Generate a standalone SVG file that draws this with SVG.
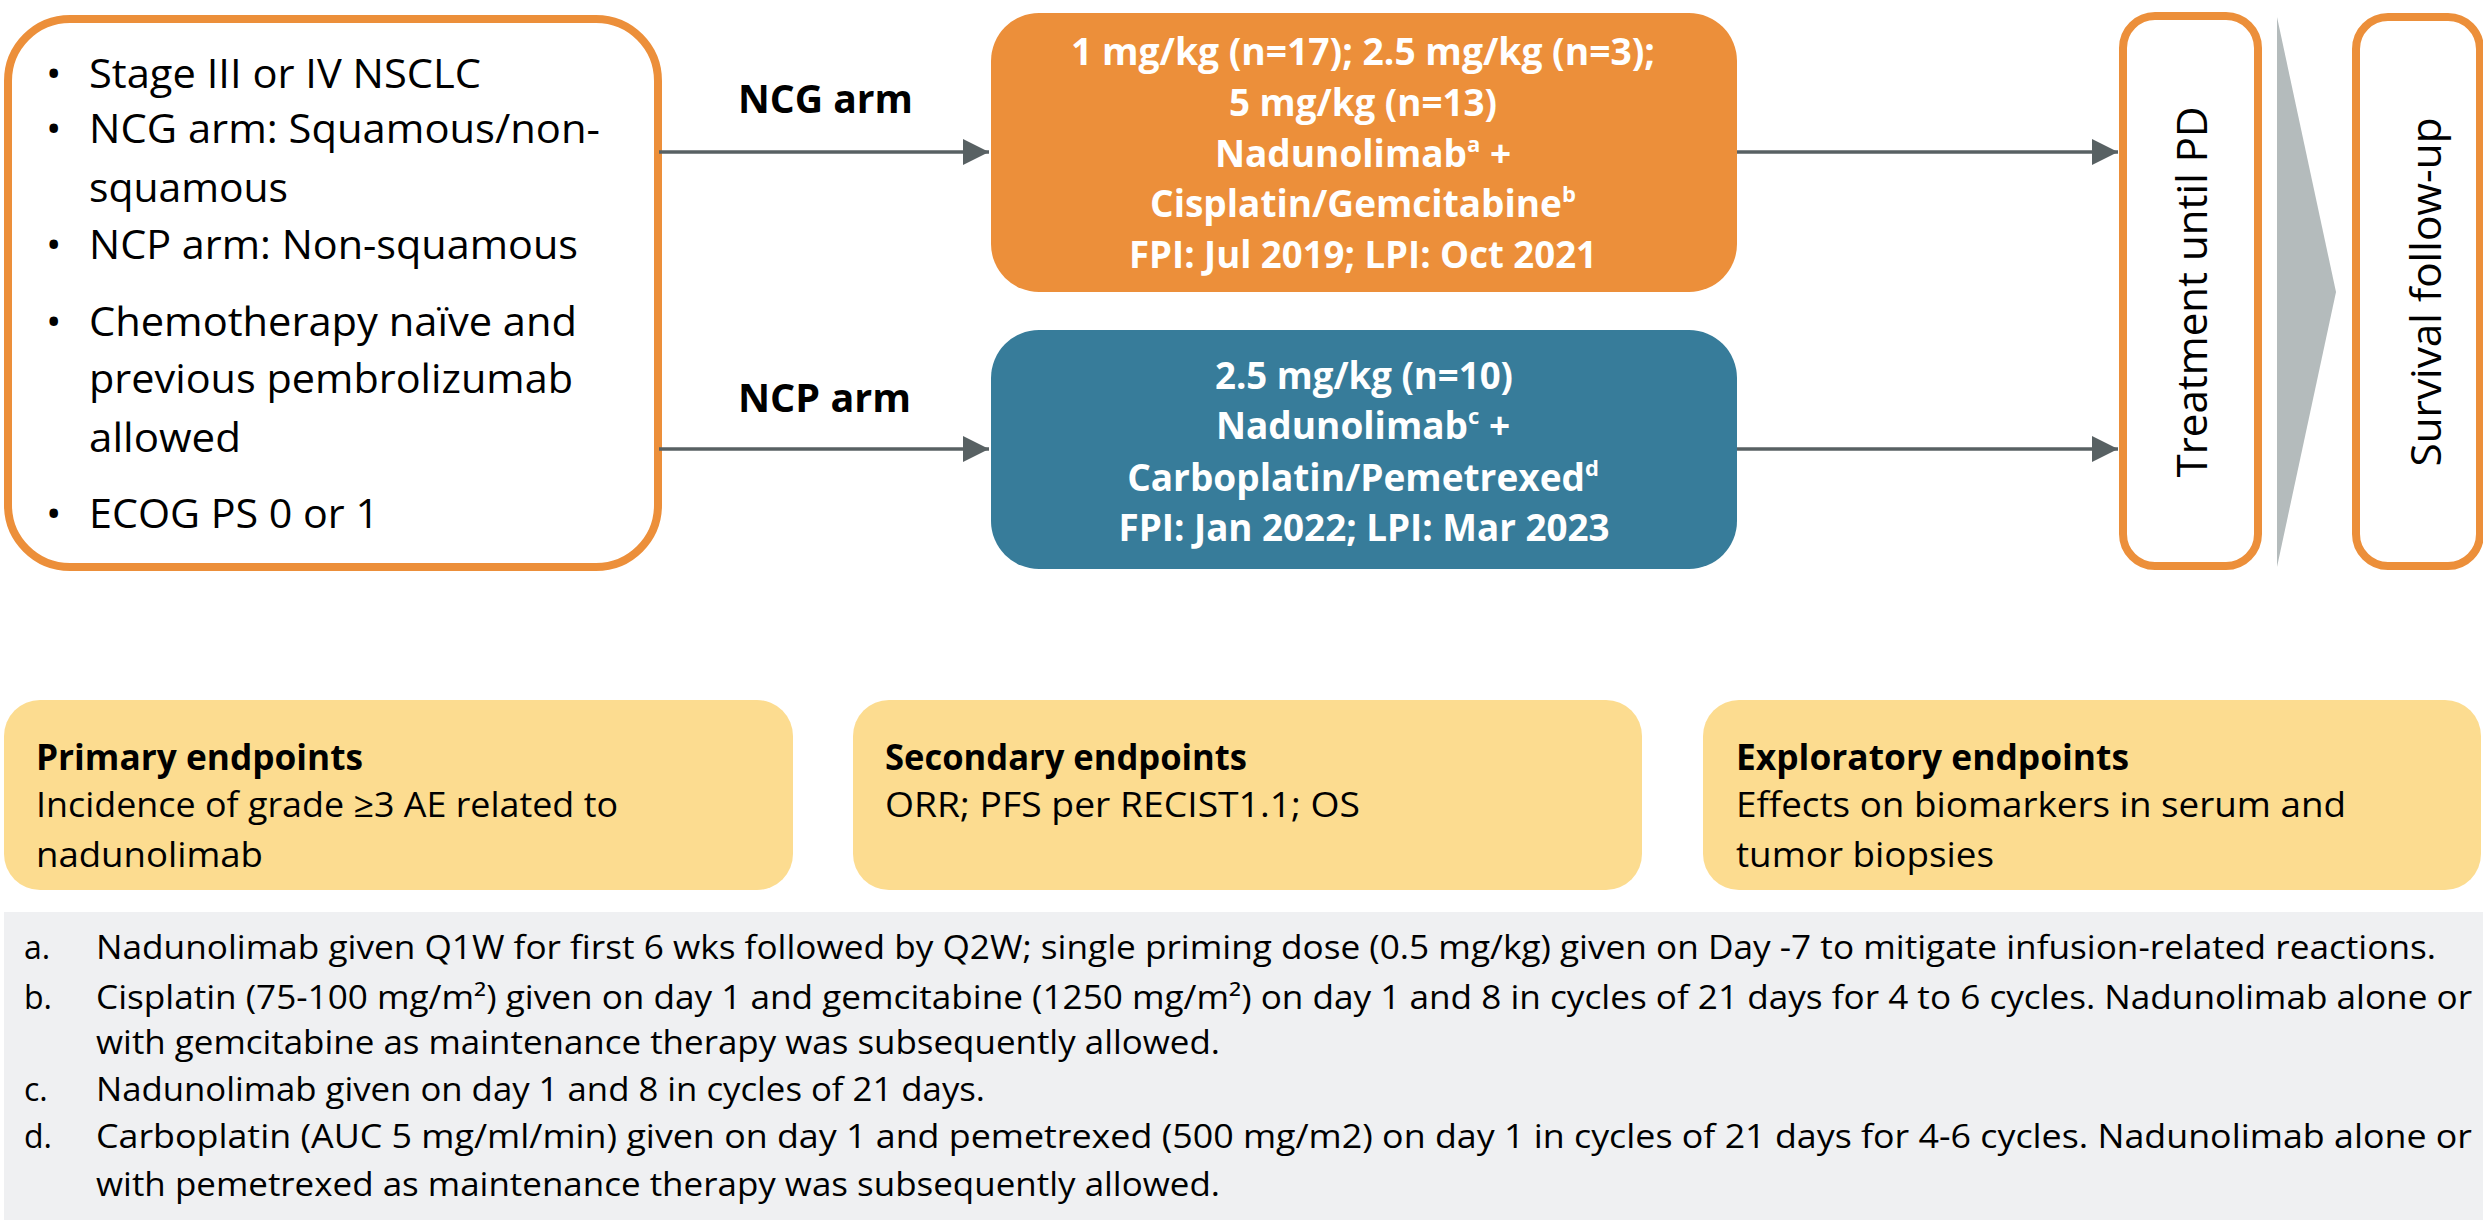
<svg xmlns="http://www.w3.org/2000/svg" width="2483" height="1227" viewBox="0 0 2483 1227">
<defs>
<style>
.t{font-family:"Open Sans","Liberation Sans",sans-serif;fill:#000}
.b{font-weight:bold}
.w{fill:#fff;font-weight:bold;font-size:37px;text-anchor:middle}
.lst{font-size:41px}
.ep{font-size:35px}
.fn{font-size:32px}
.ob{fill:#fff;stroke:#EC8F3A;stroke-width:8}
.yb{fill:#FCDC90}
.con{stroke:#586163;stroke-width:3.5;fill:none}
</style>
<marker id="ah" markerWidth="26" markerHeight="26" refX="26" refY="13" markerUnits="userSpaceOnUse" orient="auto">
<path d="M0,0 L26,13 L0,26 Z" fill="#586163"/>
</marker>
</defs>
<rect width="2483" height="1227" fill="#fff"/>

<g id="criteria">
<rect class="ob" x="8" y="19" width="650" height="548" rx="62" stroke-width="7"/>
<g class="t lst">
<text x="46" y="88">•</text><text x="89" y="88" textLength="392" lengthAdjust="spacingAndGlyphs">Stage III or IV NSCLC</text>
<text x="46" y="143">•</text><text x="89" y="143" textLength="511" lengthAdjust="spacingAndGlyphs">NCG arm: Squamous/non-</text>
<text x="89" y="202" textLength="199" lengthAdjust="spacingAndGlyphs">squamous</text>
<text x="46" y="259">•</text><text x="89" y="259" textLength="489" lengthAdjust="spacingAndGlyphs">NCP arm: Non-squamous</text>
<text x="46" y="336">•</text><text x="89" y="336" textLength="488" lengthAdjust="spacingAndGlyphs">Chemotherapy naïve and</text>
<text x="89" y="393" textLength="484" lengthAdjust="spacingAndGlyphs">previous pembrolizumab</text>
<text x="89" y="452" textLength="152" lengthAdjust="spacingAndGlyphs">allowed</text>
<text x="46" y="528">•</text><text x="89" y="528" textLength="290" lengthAdjust="spacingAndGlyphs">ECOG PS 0 or 1</text>
</g>
</g>

<g id="ncg-label"><text class="t b" x="738" y="113" font-size="39" textLength="175" lengthAdjust="spacingAndGlyphs">NCG arm</text></g>
<g id="ncp-label"><text class="t b" x="738" y="412" font-size="39" textLength="173" lengthAdjust="spacingAndGlyphs">NCP arm</text></g>

<g id="ncg-arm">
<rect x="991" y="13" width="746" height="279" rx="48" fill="#EC8F3A"/>
<g class="t w">
<text x="1363" y="65" textLength="584" lengthAdjust="spacingAndGlyphs">1 mg/kg (n=17); 2.5 mg/kg (n=3);</text>
<text x="1363" y="116" textLength="268" lengthAdjust="spacingAndGlyphs">5 mg/kg (n=13)</text>
<text x="1363" y="167">Nadunolimab<tspan baseline-shift="super" font-size="22">a</tspan> +</text>
<text x="1363" y="217">Cisplatin/Gemcitabine<tspan baseline-shift="super" font-size="22">b</tspan></text>
<text x="1363" y="268" textLength="468" lengthAdjust="spacingAndGlyphs">FPI: Jul 2019; LPI: Oct 2021</text>
</g>
</g>

<g id="ncp-arm">
<rect x="991" y="330" width="746" height="239" rx="48" fill="#377C9A"/>
<g class="t w">
<text x="1364" y="389" textLength="298" lengthAdjust="spacingAndGlyphs">2.5 mg/kg (n=10)</text>
<text x="1363" y="439">Nadunolimab<tspan baseline-shift="super" font-size="22">c</tspan> +</text>
<text x="1363" y="491">Carboplatin/Pemetrexed<tspan baseline-shift="super" font-size="22">d</tspan></text>
<text x="1364" y="541" textLength="491" lengthAdjust="spacingAndGlyphs">FPI: Jan 2022; LPI: Mar 2023</text>
</g>
</g>

<g id="treatment">
<rect class="ob" x="2123" y="16" width="135" height="550" rx="32"/>
<text class="t" transform="translate(2207,292) rotate(-90)" text-anchor="middle" font-size="42" textLength="371" lengthAdjust="spacingAndGlyphs">Treatment until PD</text>
</g>

<g id="chevron"><polygon points="2277,17 2336,292 2277,567" fill="#B4BBBC"/></g>

<g id="survival">
<rect class="ob" x="2356" y="17" width="124" height="549" rx="32"/>
<text class="t" transform="translate(2441,292) rotate(-90)" text-anchor="middle" font-size="42" textLength="349" lengthAdjust="spacingAndGlyphs">Survival follow-up</text>
</g>

<g id="connectors">
<line class="con" x1="659" y1="152" x2="989" y2="152" marker-end="url(#ah)"/>
<line class="con" x1="659" y1="449" x2="989" y2="449" marker-end="url(#ah)"/>
<line class="con" x1="1737" y1="152" x2="2118" y2="152" marker-end="url(#ah)"/>
<line class="con" x1="1737" y1="449" x2="2118" y2="449" marker-end="url(#ah)"/>
</g>

<g id="primary">
<rect class="yb" x="4" y="700" width="789" height="190" rx="36"/>
<text class="t b ep" x="36" y="770" font-size="34" textLength="327" lengthAdjust="spacingAndGlyphs">Primary endpoints</text>
<text class="t ep" x="36" y="817" textLength="582" lengthAdjust="spacingAndGlyphs">Incidence of grade ≥3 AE related to</text>
<text class="t ep" x="36" y="867" textLength="227" lengthAdjust="spacingAndGlyphs">nadunolimab</text>
</g>

<g id="secondary">
<rect class="yb" x="853" y="700" width="789" height="190" rx="36"/>
<text class="t b ep" x="885" y="770" font-size="34" textLength="362" lengthAdjust="spacingAndGlyphs">Secondary endpoints</text>
<text class="t ep" x="885" y="817" textLength="475" lengthAdjust="spacingAndGlyphs">ORR; PFS per RECIST1.1; OS</text>
</g>

<g id="exploratory">
<rect class="yb" x="1703" y="700" width="778" height="190" rx="36"/>
<text class="t b ep" x="1736" y="770" font-size="34" textLength="393" lengthAdjust="spacingAndGlyphs">Exploratory endpoints</text>
<text class="t ep" x="1736" y="817" textLength="610" lengthAdjust="spacingAndGlyphs">Effects on biomarkers in serum and</text>
<text class="t ep" x="1736" y="867" textLength="258" lengthAdjust="spacingAndGlyphs">tumor biopsies</text>
</g>

<g id="footnotes">
<rect x="4" y="912" width="2479" height="308" fill="#EFF0F2"/>
<g class="t fn">
<text x="24" y="959">a.</text>
<text x="96" y="959" textLength="2340" lengthAdjust="spacingAndGlyphs">Nadunolimab given Q1W for first 6 wks followed by Q2W; single priming dose (0.5 mg/kg) given on Day -7 to mitigate infusion-related reactions.</text>
<text x="24" y="1009">b.</text>
<text x="96" y="1009" textLength="2376" lengthAdjust="spacingAndGlyphs">Cisplatin (75-100 mg/m²) given on day 1 and gemcitabine (1250 mg/m²) on day 1 and 8 in cycles of 21 days for 4 to 6 cycles. Nadunolimab alone or</text>
<text x="96" y="1054" textLength="1124" lengthAdjust="spacingAndGlyphs">with gemcitabine as maintenance therapy was subsequently allowed.</text>
<text x="24" y="1101">c.</text>
<text x="96" y="1101" textLength="889" lengthAdjust="spacingAndGlyphs">Nadunolimab given on day 1 and 8 in cycles of 21 days.</text>
<text x="24" y="1148">d.</text>
<text x="96" y="1148" textLength="2376" lengthAdjust="spacingAndGlyphs">Carboplatin (AUC 5 mg/ml/min) given on day 1 and pemetrexed (500 mg/m2) on day 1 in cycles of 21 days for 4-6 cycles. Nadunolimab alone or</text>
<text x="96" y="1196" textLength="1124" lengthAdjust="spacingAndGlyphs">with pemetrexed as maintenance therapy was subsequently allowed.</text>
</g>
</g>
</svg>
